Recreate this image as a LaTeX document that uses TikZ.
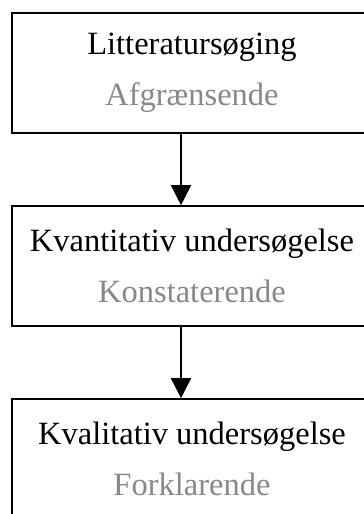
\documentclass[tikz,border=0pt]{standalone}
\usepackage{fontspec}
\setmainfont{Liberation Serif}
\usepackage{tikz}
\usetikzlibrary{arrows.meta}
\definecolor{subgray}{RGB}{136,136,136}
\begin{document}
\begin{tikzpicture}
		[x=1pt,y=1pt,
		box/.style={rectangle,draw=black,line width=1.6pt,minimum width=360pt,minimum height=120pt,align=center,font=\fontsize{32.5}{51}\selectfont},
		flow/.style={line width=1.6pt,-{Triangle[width=20pt,length=20pt]}},]
		\useasboundingbox (0,0) rectangle (364,-514);
		\clip (0,0) rectangle (364,-514);
		
		\node[box] (lit) at (192,-73){Litteratursøging\\\textcolor{subgray}{Afgrænsende}};
		\node[box] (kvant) at (192,-266){Kvantitativ undersøgelse\\\textcolor{subgray}{Konstaterende}};
		\node[box] (kval) at (192,-459){Kvalitativ undersøgelse\\\textcolor{subgray}{Forklarende}};
		
		\draw[flow] ([xshift=-11pt]lit.south) -- ([xshift=-11pt]kvant.north);
		\draw[flow] ([xshift=-11pt]kvant.south) -- ([xshift=-11pt]kval.north);
		
	\end{tikzpicture}
\end{document}
